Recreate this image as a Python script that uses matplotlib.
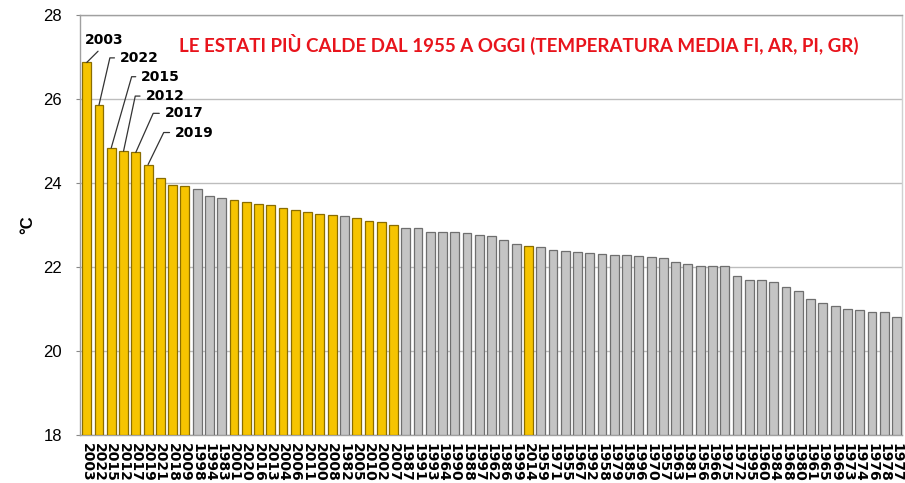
import matplotlib
matplotlib.use("Agg")
import matplotlib.pyplot as plt
from matplotlib import font_manager

years = [2003, 2022, 2015, 2012, 2017, 2019, 2021, 2018, 2009,
         1998, 1994, 1983,
         2001, 2020, 2016, 2013, 2004, 2006, 2011, 2000, 2008,
         1982,
         2005, 2010, 2002, 2007,
         1987, 1991, 1993, 1964, 1990, 1988, 1997, 1962, 1986, 1999,
         2014,
         1959, 1971, 1955, 1967, 1992, 1958, 1979, 1985, 1996, 1970,
         1957, 1963, 1981, 1956, 1966, 1975, 1972, 1995, 1960, 1984,
         1968, 1980, 1961, 1965, 1969, 1973, 1974, 1976, 1978, 1977]

temps = [26.87, 25.86, 24.84, 24.76, 24.73, 24.44, 24.13, 23.95, 23.94,
         23.86, 23.70, 23.64,
         23.60, 23.55, 23.51, 23.48, 23.40, 23.36, 23.30, 23.26, 23.25,
         23.21,
         23.17, 23.10, 23.08, 22.99,
         22.92, 22.92, 22.84, 22.83, 22.83, 22.81, 22.76, 22.73, 22.64, 22.55,
         22.51,
         22.48, 22.40, 22.39, 22.36, 22.34, 22.30, 22.29, 22.29, 22.27, 22.25,
         22.21, 22.13, 22.08, 22.03, 22.02, 22.02, 21.79, 21.70, 21.70, 21.64,
         21.52, 21.43, 21.25, 21.15, 21.06, 21.00, 20.98, 20.94, 20.92, 20.81]

y_ticks = [18, 20, 22, 24, 26, 28]
highlight_from = 2000

annotated = [2003, 2022, 2015, 2012, 2017, 2019]
# text offsets in pixels (dx, dy) and leader angle
ann_style = {2003: (17, 22, None), 2022: (21, 47, 77), 2015: (30, 71, 74),
             2012: (22, 55, 78), 2017: (29, 39, 66), 2019: (27, 32, 64)}

title = "LE ESTATI PIÙ CALDE DAL 1955 A OGGI (TEMPERATURA MEDIA FI, AR, PI, GR)"

available = {f.name for f in font_manager.fontManager.ttflist}
title_font = "Lato" if "Lato" in available else "Liberation Sans"

fig = plt.figure(figsize=(9.05, 4.83), dpi=100)
ax = fig.add_axes([80 / 905, 1 - 435 / 483, (902 - 80) / 905, (435 - 15) / 483])

yellow = "#F6C400"
yellow_edge = "#8a6d00"
grey = "#C4C4C4"
grey_edge = "#6f6f6f"

x = list(range(len(years)))
colors = [yellow if y >= highlight_from else grey for y in years]
edges = [yellow_edge if y >= highlight_from else grey_edge for y in years]
ax.bar(x, [t - 18 for t in temps], bottom=18, width=0.72, color=colors,
       edgecolor=edges, linewidth=0.9, zorder=3)

ax.set_ylim(18, 28)
ax.set_xlim(-0.55, len(years) - 1 + 0.45)
ax.set_yticks(y_ticks)
ax.set_yticklabels([str(v) for v in y_ticks], fontsize=12,
                   family=["Liberation Sans", "DejaVu Sans"])
ax.yaxis.grid(True, color="#bdbdbd", linewidth=1.0, zorder=0)
ax.set_axisbelow(True)
ax.tick_params(axis="y", length=3, color="#888888", pad=10)
ax.set_ylabel("°C", fontsize=12, fontweight="bold", labelpad=6,
              family=["Liberation Sans", "DejaVu Sans"])

ax.set_xticks(x)
ax.set_xticklabels([str(y) for y in years], rotation=270, fontsize=10,
                   fontweight="bold", va="top", ha="center")
ax.tick_params(axis="x", length=0, pad=6)

for side in ["top", "right", "left", "bottom"]:
    ax.spines[side].set_color("#a0a0a0")
    ax.spines[side].set_linewidth(1.0)
ax.spines["right"].set_color("#d0d0d0")

t = ax.text(519 / 905, 1 - 44 / 483, title, transform=fig.transFigure,
            ha="center", va="center", color="#E8141C", fontsize=13,
            fontweight="bold", family=[title_font, "DejaVu Sans"])
fig.canvas.draw()
w = t.get_window_extent().width
t.set_fontsize(13 * 678 / w)

px2pt = 72 / 100
for yr in annotated:
    i = years.index(yr)
    dx, dy, ang = ann_style[yr]
    if ang is None:
        ax.annotate(str(yr), xy=(i, temps[i]), xytext=(dx * px2pt, dy * px2pt),
                    textcoords="offset points", ha="center", va="center",
                    fontsize=10, fontweight="bold",
                    arrowprops=dict(arrowstyle="-", color="#333333", lw=0.9,
                                    shrinkA=1, shrinkB=0, relpos=(0.45, 0.0)))
    else:
        ax.annotate(str(yr), xy=(i, temps[i]), xytext=(dx * px2pt, dy * px2pt),
                    textcoords="offset points", ha="left", va="center",
                    fontsize=10, fontweight="bold",
                    arrowprops=dict(arrowstyle="-", color="#333333", lw=0.9,
                                    shrinkA=2, shrinkB=0, relpos=(0.0, 0.5),
                                    connectionstyle=f"angle,angleA=0,angleB={ang},rad=0"))

fig.savefig("out.png", dpi=100)
